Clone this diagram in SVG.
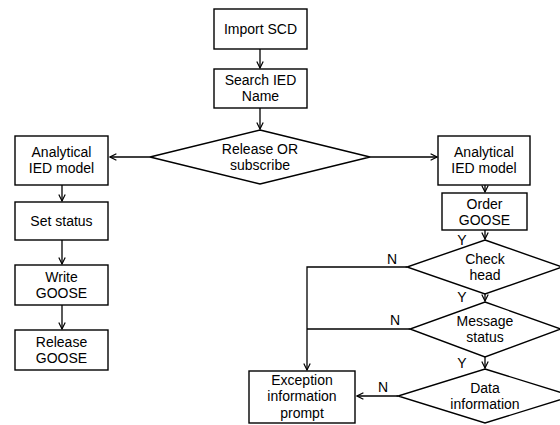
<svg xmlns="http://www.w3.org/2000/svg" width="560" height="425" viewBox="0 0 560 425">
<defs>
<style>
.n{fill:#fff;stroke:#000;stroke-width:1.4}
.t{font-family:"Liberation Sans",Arial,sans-serif;font-size:14px;fill:#000;text-anchor:middle}
.c{fill:none;stroke:#000;stroke-width:1.3}
</style>
<marker id="a" viewBox="0 0 10 10" refX="9" refY="5" markerWidth="8" markerHeight="8" markerUnits="userSpaceOnUse" orient="auto">
<path d="M1,1 L9,5 L1,9" fill="none" stroke="#000" stroke-width="1.5"/>
</marker>
</defs>
<rect width="560" height="425" fill="#fff"/>
<g id="connectors">
<line class="c" x1="260" y1="49" x2="260" y2="68" marker-end="url(#a)"/>
<line class="c" x1="260" y1="108" x2="260" y2="129" marker-end="url(#a)"/>
<line class="c" x1="150" y1="157" x2="110" y2="157" marker-end="url(#a)"/>
<line class="c" x1="370" y1="157" x2="437" y2="157" marker-end="url(#a)"/>
<line class="c" x1="62" y1="185" x2="62" y2="201" marker-end="url(#a)"/>
<line class="c" x1="62" y1="240" x2="62" y2="264" marker-end="url(#a)"/>
<line class="c" x1="62" y1="305" x2="62" y2="329" marker-end="url(#a)"/>
<line class="c" x1="485" y1="185" x2="485" y2="192" marker-end="url(#a)"/>
<line class="c" x1="485" y1="230" x2="485" y2="239" marker-end="url(#a)"/>
<line class="c" x1="485" y1="294" x2="485" y2="301" marker-end="url(#a)"/>
<line class="c" x1="485" y1="357" x2="485" y2="368" marker-end="url(#a)"/>
<polyline class="c" points="407,267 307,267 307,370" marker-end="url(#a)"/>
<line class="c" x1="410" y1="329" x2="307" y2="329"/>
<line class="c" x1="398" y1="396" x2="357" y2="396" marker-end="url(#a)"/>
<text class="t" x="462" y="245">Y</text>
<text class="t" x="462" y="302">Y</text>
<text class="t" x="462" y="368">Y</text>
<text class="t" x="392" y="264">N</text>
<text class="t" x="395" y="325">N</text>
<text class="t" x="383" y="392">N</text>
</g>
<g id="import-scd"><rect class="n" x="214" y="9" width="93" height="40"/><text class="t" x="260.5" y="34">Import SCD</text></g>
<g id="search-ied"><rect class="n" x="214" y="69" width="93" height="39"/><text class="t" x="260.5" y="85">Search IED</text><text class="t" x="260.5" y="101">Name</text></g>
<g id="release-or-subscribe"><polygon class="n" points="260,130 370,157 260,184 150,157"/><text class="t" x="260" y="154">Release OR</text><text class="t" x="260" y="170">subscribe</text></g>
<g id="analytical-left"><rect class="n" x="15" y="136" width="93" height="49"/><text class="t" x="61.5" y="157">Analytical</text><text class="t" x="61.5" y="173">IED model</text></g>
<g id="set-status"><rect class="n" x="15" y="202" width="93" height="38"/><text class="t" x="61.5" y="226">Set status</text></g>
<g id="write-goose"><rect class="n" x="15" y="265" width="93" height="40"/><text class="t" x="61.5" y="282">Write</text><text class="t" x="61.5" y="298">GOOSE</text></g>
<g id="release-goose"><rect class="n" x="15" y="330" width="93" height="40"/><text class="t" x="61.5" y="347">Release</text><text class="t" x="61.5" y="363">GOOSE</text></g>
<g id="analytical-right"><rect class="n" x="438" y="136" width="92" height="49"/><text class="t" x="484" y="157">Analytical</text><text class="t" x="484" y="173">IED model</text></g>
<g id="order-goose"><rect class="n" x="442" y="193" width="85" height="37"/><text class="t" x="484.5" y="209">Order</text><text class="t" x="484.5" y="225">GOOSE</text></g>
<g id="check-head"><polygon class="n" points="485,240 562,267 485,294 407,267"/><text class="t" x="485" y="264">Check</text><text class="t" x="485" y="280">head</text></g>
<g id="message-status"><polygon class="n" points="485,302 561,329 485,357 410,329"/><text class="t" x="485" y="326">Message</text><text class="t" x="485" y="342">status</text></g>
<g id="data-information"><polygon class="n" points="485,369 572,396 485,423 398,396"/><text class="t" x="485" y="393">Data</text><text class="t" x="485" y="409">information</text></g>
<g id="exception"><rect class="n" x="249" y="371" width="106" height="52"/><text class="t" x="302" y="385">Exception</text><text class="t" x="302" y="401">information</text><text class="t" x="302" y="418">prompt</text></g>
</svg>
